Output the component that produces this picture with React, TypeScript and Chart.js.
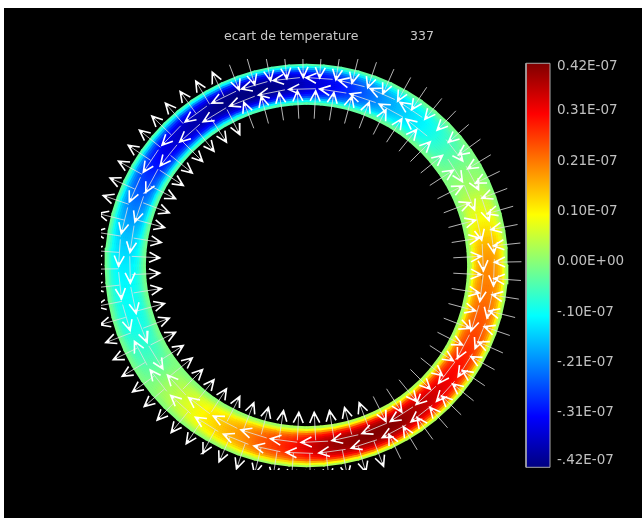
import React, { useEffect, useRef } from "react";
import { Chart, registerables } from "chart.js";

Chart.register(...registerables);

const titleText = "   ecart de temperature             337";

// peak temperature deviation (1e-7) in the annulus core, every 5 degrees counter-clockwise from east
const corePeak = [
  0.2, 0.18, 0.14, 0.1, 0.07, 0.03, 0.01, -0.02, -0.05, -0.08, -0.11, -0.13,
  -0.16, -0.19, -0.23, -0.27, -0.31, -0.34, -0.36, -0.39, -0.41, -0.42, -0.42,
  -0.42, -0.41, -0.39, -0.38, -0.36, -0.34, -0.31, -0.28, -0.25, -0.22, -0.19,
  -0.16, -0.14, -0.12, -0.11, -0.1, -0.1, -0.09, -0.07, -0.05, -0.02, 0.02,
  0.05, 0.08, 0.11, 0.14, 0.17, 0.2, 0.24, 0.27, 0.3, 0.34, 0.38, 0.4, 0.41,
  0.42, 0.42, 0.41, 0.39, 0.37, 0.35, 0.33, 0.31, 0.29, 0.27, 0.25, 0.24, 0.22, 0.21,
];

// share of the core value reached across the annulus, inner wall to outer wall
const radialProfile = [
  0.1, 0.27, 0.48, 0.68, 0.8, 0.88, 0.93, 0.97, 0.99, 1, 1, 0.99, 0.97, 0.93,
  0.88, 0.8, 0.68, 0.48, 0.27, 0.1,
];

// radial flow next to the outer wall, every 5 degrees: +1 outward, -1 inward
const outerRadialFlow = [
  -1, -1, -1, -1, -1, -1, -1, -1, -1, -1, -1, -1, -1, -1, -1, -1, -1, -1, -1, -1, -1, -1, -1,
  1, 1, 1, 1, 1, 1, 1, 1, 1, 1, 1, 1, 1, 1, 1, 1, 1, 1, 1, 1, 1, 1, 1, 1, 1, 1, 1, 1, 1, 1, 1, 1, 1, 1, 1, 1,
  -1, -1, -1, -1, -1, -1, -1, -1, -1, -1, -1, -1, -1,
];
// radial flow next to the inner wall, every 6 degrees
const innerRadialFlow = [
  1, 1, 1, 1, 1, 1, 1, 1, 1, 1, 1, 1, 1, 1, 1, 1, 1, 1, 1,
  -1, -1, -1, -1, -1, -1, -1, -1, -1, -1, -1, -1, -1, -1, -1, -1, -1, -1, -1, -1, -1, -1, -1, -1, -1, -1, -1, -1, -1, -1,
  1, 1, 1, 1, 1, 1, 1, 1, 1, 1, 1,
];

// tangential flow, every 10 degrees: +1 counter-clockwise, -1 clockwise, 0 stagnant
const outerTangentialFlow = [
  -1, -1, -1, -1, -1, 1, 1, 1, 1, 1, 1, 1, 1, 1, 1, 1, 1, 1, 1, 1, 0,
  -1, -1, -1, -1, -1, -1, -1, -1, -1, -1, -1, -1, -1, -1, -1,
];
const innerTangentialFlow = [
  -1, -1, -1, -1, 1, 1, 1, 1, 1, 1, 1, 1, 1, 1, 1, 1, 1, 1, 1, 1, 1,
  0, -1, -1, -1, -1, -1, -1, -1, -1, -1, -1, -1, -1, -1, -1,
];

const colorbarLevels = [
  -0.42, -0.3675, -0.315, -0.2625, -0.21, -0.1575, -0.105, -0.0525, 0, 0.0525,
  0.105, 0.1575, 0.21, 0.2625, 0.315, 0.3675, 0.42,
];
const colorbarLabels = [
  "0.42E-07", "0.31E-07", "0.21E-07", "0.10E-07", "0.00E+00",
  "-.10E-07", "-.21E-07", "-.31E-07", "-.42E-07",
];
const colorbarLabelAt = [0.4128, 0.3208, 0.2165, 0.1119, 0.0069, -0.0981, -0.202, -0.307, -0.4058];

const WALL_IN = 161;
const WALL_OUT = 201.5;
const BAR_X = 231.5;
const BAR_HALF = 12;

function jet(v: number): [number, number, number] {
  const t = (v + 0.42) / 0.84;
  const ramp = (c: number) => Math.max(0, Math.min(1, 1.5 - Math.abs(4 * t - c)));
  return [ramp(3) * 255, ramp(2) * 255, ramp(1) * 255];
}
const css = (c: number[]) => `rgb(${Math.round(c[0])},${Math.round(c[1])},${Math.round(c[2])})`;

const polar = (r: number, deg: number) => ({
  x: r * Math.cos((deg * Math.PI) / 180),
  y: r * Math.sin((deg * Math.PI) / 180),
});

type Pt = { x: number; y: number };
const gap = { x: NaN, y: NaN };

function arrow(shafts: Pt[], heads: Pt[], tail: Pt, tip: Pt) {
  shafts.push(tail, tip, gap);
  const dx = tip.x - tail.x;
  const dy = tip.y - tail.y;
  const len = Math.hypot(dx, dy);
  const ux = dx / len;
  const uy = dy / len;
  const back = 10.5;
  const side = 5;
  heads.push(
    { x: tip.x - ux * back - uy * side, y: tip.y - uy * back + ux * side },
    tip,
    { x: tip.x - ux * back + uy * side, y: tip.y - uy * back - ux * side },
    gap
  );
  const core = 4;
  heads.push(tip, { x: tip.x - ux * core, y: tip.y - uy * core }, gap);
}

function flowMarks() {
  const shafts: Pt[] = [];
  const heads: Pt[] = [];
  outerRadialFlow.forEach((s, i) => {
    const a = i * 5 + 1;
    const lo = polar(188, a);
    const hi = polar(215, a);
    if (s > 0) arrow(shafts, heads, lo, hi);
    else arrow(shafts, heads, hi, lo);
  });
  innerRadialFlow.forEach((s, i) => {
    const a = i * 6 + 3;
    const lo = polar(147, a);
    const hi = polar(175, a);
    if (s > 0) arrow(shafts, heads, lo, hi);
    else arrow(shafts, heads, hi, lo);
  });
  outerTangentialFlow.forEach((s, i) => {
    if (s === 0) return;
    const a = i * 10 + 2;
    arrow(shafts, heads, polar(188, a), polar(188, a + (s * 27 * 180) / (188 * Math.PI)));
  });
  innerTangentialFlow.forEach((s, i) => {
    if (s === 0) return;
    const a = i * 10 + 7;
    arrow(shafts, heads, polar(177, a), polar(177, a + (s * 27 * 180) / (177 * Math.PI)));
  });
  return { shafts, heads };
}

function segmentGradient(colorAt: (i: number) => number) {
  return (ctx: any) => {
    const g = ctx.chart.ctx.createLinearGradient(ctx.p0.x, ctx.p0.y, ctx.p1.x, ctx.p1.y);
    g.addColorStop(0, css(jet(colorAt(ctx.p0DataIndex))));
    g.addColorStop(1, css(jet(colorAt(ctx.p1DataIndex))));
    return g;
  };
}

function colorbarGradient(ctx: any) {
  const scale = ctx.chart.scales.yBar;
  if (!scale) return "#000";
  const top = scale.getPixelForValue(0.42);
  const bottom = scale.getPixelForValue(-0.42);
  if (!Number.isFinite(top) || !Number.isFinite(bottom)) return "#000";
  const g = ctx.chart.ctx.createLinearGradient(0, bottom, 0, top);
  colorbarLevels.forEach((v) => g.addColorStop((v + 0.42) / 0.84, css(jet(v))));
  return g;
}

export default function App() {
  const ref = useRef<HTMLCanvasElement>(null);
  useEffect(() => {
    if (!ref.current) return;
    const { shafts, heads } = flowMarks();
    const width = (WALL_OUT - WALL_IN) / radialProfile.length;
    const rings = radialProfile.map((share, l) => {
      const r = WALL_IN + (l + 0.5) * width;
      const data = [...corePeak, corePeak[0]].map((_, i) => polar(r, i * 5));
      return {
        data,
        yAxisID: "y",
        borderWidth: width + 0.7,
        borderColor: "#000",
        borderCapStyle: "round" as const,
        clip: 0,
        segment: {
          borderColor: segmentGradient((i) => corePeak[i % corePeak.length] * share),
        },
      };
    });
    const chart = new Chart(ref.current, {
      type: "line",
      data: {
        datasets: [
          { data: heads, yAxisID: "y", borderColor: "#ffffff", borderWidth: 1.6, clip: 0 },
          { data: shafts, yAxisID: "y", borderColor: "rgba(225,225,225,0.8)", borderWidth: 1, clip: 0 },
          ...rings,
          {
            data: [
              { x: BAR_X - BAR_HALF, y: -0.42 },
              { x: BAR_X + BAR_HALF, y: -0.42 },
              { x: BAR_X + BAR_HALF, y: 0.42 },
              { x: BAR_X - BAR_HALF, y: 0.42 },
              { x: BAR_X - BAR_HALF, y: -0.42 },
            ],
            yAxisID: "yBar",
            borderColor: "#a8a8a8",
            borderWidth: 1,
            clip: false,
          },
          {
            data: [
              { x: BAR_X, y: -0.42 },
              { x: BAR_X, y: 0.42 },
            ],
            yAxisID: "yBar",
            borderWidth: BAR_HALF * 2,
            borderColor: colorbarGradient,
            borderCapStyle: "butt" as const,
            clip: false,
          },
        ] as any,
      },
      options: {
        responsive: false,
        animation: false,
        devicePixelRatio: 1,
        spanGaps: false,
        elements: { point: { radius: 0 }, line: { tension: 0, fill: false } },
        layout: { padding: { left: 0, right: 0, top: 0, bottom: 48 } },
        plugins: {
          legend: { display: false },
          tooltip: { enabled: false },
          title: {
            display: true,
            text: titleText,
            color: "#c8c8c8",
            font: { family: "DejaVu Sans", size: 12.5, weight: "normal", lineHeight: 1.2 },
            padding: { top: 21, bottom: 15 },
          },
        },
        scales: {
          x: { type: "linear", display: false, min: -205.5, max: 244.5 },
          y: {
            type: "linear",
            min: -204.5,
            max: 206.5,
            grid: { display: false, drawTicks: false },
            border: { display: false },
            ticks: { display: false },
            afterFit: (scale: any) => {
              scale.width = 97;
            },
          },
          yBar: {
            type: "linear",
            position: "right",
            min: -0.4256,
            max: 0.4289,
            grid: { display: false, drawTicks: false },
            border: { display: false },
            afterBuildTicks: (scale: any) => {
              scale.ticks = colorbarLabelAt.map((value) => ({ value }));
            },
            afterFit: (scale: any) => {
              scale.width = 91;
            },
            ticks: {
              color: "#c0c0c0",
              padding: 6,
              autoSkip: false,
              font: { family: "DejaVu Sans", size: 13.5 },
              callback: (_: any, i: number) => colorbarLabels[i],
            },
          },
        },
      },
    });
    return () => chart.destroy();
  }, []);
  return (
    <div style={{ position: "fixed", left: 4, top: 8, width: 638, height: 510, background: "#000" }}>
      <canvas ref={ref} width={638} height={510} style={{ display: "block" }} />
    </div>
  );
}
